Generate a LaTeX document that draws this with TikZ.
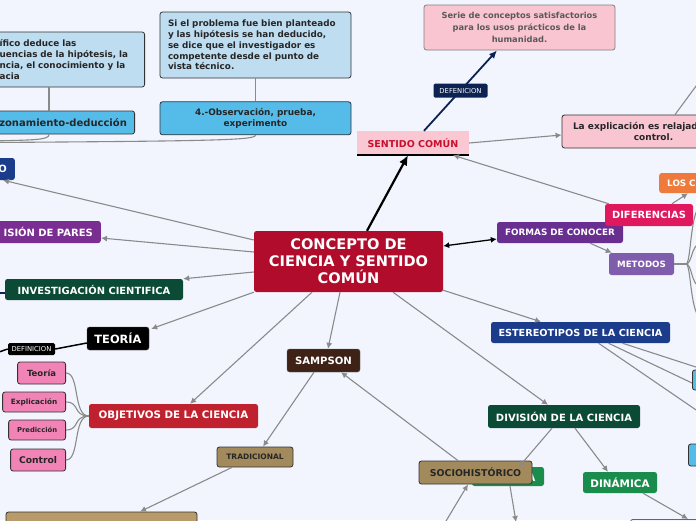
\documentclass[tikz,border=0pt]{standalone}
\usepackage{fontspec}
\setmainfont{DejaVu Sans}
\usetikzlibrary{arrows.meta,positioning}
\definecolor{fondo}{HTML}{F2F5FE}
\definecolor{gris}{HTML}{8A8A8A}
\definecolor{rojoconcepto}{HTML}{B10C2B}
\definecolor{rosasentido}{HTML}{FAC8D3}
\definecolor{textosentido}{HTML}{C8102E}
\definecolor{rosaserie}{HTML}{F9C5D1}
\definecolor{marino}{HTML}{0C2252}
\definecolor{celeste}{HTML}{BFDDF1}
\definecolor{azulvivo}{HTML}{55BCEA}
\definecolor{azulosc}{HTML}{1B3B8B}
\definecolor{moradopares}{HTML}{7B2E92}
\definecolor{moradoformas}{HTML}{682E90}
\definecolor{lilametodos}{HTML}{7F5DAC}
\definecolor{verdeosc}{HTML}{0B4A34}
\definecolor{verde}{HTML}{1A8D4C}
\definecolor{rojoobj}{HTML}{C0212F}
\definecolor{cafe}{HTML}{3E2215}
\definecolor{arena}{HTML}{A28A5C}
\definecolor{arenaclara}{HTML}{B89B6A}
\definecolor{fucsia}{HTML}{E0195F}
\definecolor{naranja}{HTML}{EE7B3C}
\definecolor{rosa}{HTML}{F283B6}

\begin{document}
\begin{tikzpicture}[x=1pt, y=-1pt,
  caja/.style={rectangle, rounded corners=2.5pt, inner sep=0pt, align=center, text=white},
  marco/.style={caja, draw=black!80, line width=0.8pt, text=black!85},
  letra/.style 2 args={font=\bfseries\fontsize{#1}{#2}\selectfont},
  etiqueta/.style={rectangle, rounded corners=1.5pt, fill=#1, text=white, inner sep=0pt, font=\fontsize{6.8}{8}\selectfont},
  flecha/.style={-{Latex[length=6pt,width=6pt]}, draw=gris, line width=1.1pt},
  linea/.style={draw=gris, line width=1.1pt}
]
  \useasboundingbox (0,0) rectangle (696,520);
  \fill[fondo] (0,0) rectangle (696,520);
  \clip (0,0) rectangle (696,520);

  % centro
  \node[caja, fill=rojoconcepto, letra={14.6}{17}, minimum width=189pt, minimum height=61pt] (concepto) at (348.5,261.5) {CONCEPTO DE\\CIENCIA Y SENTIDO\\COMÚN};

  % sentido comun
  \node[caja, rounded corners=0pt, fill=rosasentido, text=textosentido, letra={9.5}{11}, minimum width=112pt, minimum height=24pt] (sentido) at (413,143) {SENTIDO COMÚN};
  \draw[line width=2pt] (sentido.south west) -- (sentido.south east);
  \node[marco, draw=black!50, fill=rosaserie, text=black!65, letra={8.3}{11.7}, minimum width=191pt, minimum height=45pt] (serie) at (519.5,27.5) {Serie de conceptos satisfactorios\\para los usos prácticos de la\\humanidad.};
  \node[marco, fill=rosaserie, letra={9}{10.7}, minimum width=183pt, minimum height=33pt] (explicacion) at (653.5,131.5) {La explicación es relajada\hspace*{30pt}\\control.};

  % metodo cientifico
  \node[marco, fill=celeste, letra={8.8}{11}, text width=140pt, align=left, inner xsep=5pt, minimum height=55pt, anchor=east] (hipotesis) at (145,59.5) {ífico deduce las\\uencias de la hipótesis, la\\ncia, el conocimiento y la\\acia};
  \node[marco, fill=azulvivo, letra={10}{12}, minimum width=143pt, minimum height=23pt, anchor=east] (razonamiento) at (135,122.5) {zonamiento-deducción};
  \node[marco, fill=celeste, letra={8.8}{10.8}, text width=175pt, align=left, inner xsep=8pt, minimum height=66pt] (problema) at (255.5,45) {Si el problema fue bien planteado\\y las hipótesis se han deducido,\\se dice que el investigador es\\competente desde el punto de\\vista técnico.};
  \node[marco, fill=azulvivo, letra={8.9}{10.7}, minimum width=191pt, minimum height=33pt, below=23pt of problema] (observacion) {4.-Observación, prueba,\\experimento};

  % ramas izquierdas
  \node[caja, fill=azulosc, letra={10}{12}, text width=40pt, align=right, inner xsep=8pt, minimum height=22pt, anchor=east] (ramao) at (15,169) {O};
  \node[caja, fill=moradopares, letra={10}{12}, text width=100pt, align=right, inner xsep=8pt, minimum height=22pt, anchor=east] (pares) at (101,232) {ISIÓN DE PARES};
  \node[caja, fill=verdeosc, letra={9.9}{12}, minimum width=178pt, minimum height=21pt] (investigacion) at (94,289.5) {INVESTIGACIÓN CIENTIFICA};
  \node[caja, fill=black, draw=black!70, letra={11.4}{13}, minimum width=62pt, minimum height=23pt] (teoria) at (118,338.5) {TEORÍA};
  \node[etiqueta=black, minimum width=47pt, minimum height=12pt] (definicion) at (31.5,349) {DEFINICION};

  % objetivos
  \node[caja, fill=rojoobj, letra={10.3}{12}, minimum width=169pt, minimum height=24pt] (objetivos) at (173.5,416) {OBJETIVOS DE LA CIENCIA};
  \node[marco, fill=rosa, letra={8.5}{10}, minimum width=48pt, minimum height=22pt, anchor=east] (teoriaobj) at (66,373) {Teoría};
  \node[marco, fill=rosa, letra={7.3}{9}, minimum width=63pt, minimum height=20pt, anchor=east] (explicacionobj) at (66,402) {Explicación};
  \node[marco, fill=rosa, letra={6.8}{8}, minimum width=57pt, minimum height=20pt, anchor=east] (prediccion) at (66,430) {Predicción};
  \node[marco, fill=rosa, letra={9.2}{11}, minimum width=55pt, minimum height=22pt, anchor=east] (control) at (66,460) {Control};

  % sampson
  \node[caja, fill=cafe, draw=black!60, letra={10.1}{12}, minimum width=73pt, minimum height=23pt] (sampson) at (323.5,360.5) {SAMPSON};
  \node[marco, fill=arena, letra={7.5}{9}, minimum width=76pt, minimum height=20pt] (tradicional) at (255,457) {TRADICIONAL};
  \node[marco, fill=arenaclara, minimum width=191pt, minimum height=28pt] (tradicionaldef) at (101.5,526) {};

  % division de la ciencia
  \node[caja, fill=verdeosc, letra={10}{12}, minimum width=152pt, minimum height=23pt] (division) at (564,416.5) {DIVISIÓN DE LA CIENCIA};
  \node[caja, fill=verde, letra={10.4}{12}, minimum width=72pt, minimum height=19pt] (estatica) at (508,476.5) {ESTÁTICA};
  \node[marco, fill=arena, letra={9.4}{11}, minimum width=113pt, minimum height=23pt] (socio) at (475.5,472.5) {SOCIOHISTÓRICO};
  \node[caja, fill=verde, letra={10.4}{12}, minimum width=74pt, minimum height=21pt] (dinamica) at (620,482.5) {DINÁMICA};
  \node[marco, draw=black!60, fill=fondo, minimum width=120pt, minimum height=30pt, anchor=north west] (dinamicadef) at (630,519) {};

  % estereotipos
  \node[caja, fill=azulosc, letra={9.7}{12}, minimum width=179pt, minimum height=21pt] (estereotipos) at (580.5,332.5) {ESTEREOTIPOS DE LA CIENCIA};
  \node[marco, fill=azulvivo, minimum width=50pt, minimum height=20pt, anchor=west] (estereotipouno) at (692,380) {};
  \node[marco, fill=azulvivo, minimum width=50pt, minimum height=22pt, anchor=west] (estereotipodos) at (688,455) {};

  % formas de conocer
  \node[caja, fill=moradoformas, letra={8.8}{11}, minimum width=126pt, minimum height=21pt] (formas) at (560,232.5) {FORMAS DE CONOCER};
  \node[caja, fill=lilametodos, letra={8.7}{11}, minimum width=65pt, minimum height=22pt] (metodos) at (641.5,264) {METODOS};
  \node[caja, fill=fucsia, letra={9.9}{12}, minimum width=88pt, minimum height=22pt] (diferencias) at (649,215) {DIFERENCIAS};
  \node[caja, fill=naranja, letra={8.8}{11}, text width=70pt, align=left, inner xsep=8pt, minimum height=20pt, anchor=west] (conocimientos) at (659,183) {LOS C};

  % conectores
  \draw[-{Latex[length=10pt,width=9pt]}, line width=2.2pt] ([xshift=18.5pt]concepto.north) -- ([xshift=-5pt]sentido.south);
  \draw[-{Latex[length=8pt,width=7pt]}, draw=marino, line width=1.8pt] ([xshift=11pt]sentido.north) -- node[etiqueta=marino, minimum width=54pt, minimum height=14pt] {DEFENICION} ([xshift=-22.5pt]serie.south);
  \draw[flecha] (sentido.east) -- ([yshift=-3.5pt]explicacion.west);
  \draw[linea] ([xshift=21.5pt]explicacion.north) -- (702,78);
  \draw[flecha] ([xshift=4pt]diferencias.north west) -- ([xshift=40pt]sentido.south);
  \draw[flecha] ([xshift=23pt]diferencias.north) -- ([xshift=29pt]conocimientos.south west);
  \draw[{Latex[length=6pt,width=6pt]}-{Latex[length=6pt,width=6pt]}, line width=1.3pt] ([yshift=15.5pt]concepto.east) -- ([yshift=-6.5pt]formas.west);
  \draw[flecha] ([xshift=30pt]formas.south) -- ([xshift=3pt]metodos.north west);
  \draw[linea] (metodos.east) -- (686,264);
  \draw[linea] (686,264) .. controls (691,264) and (690,214) .. (700,206);
  \draw[linea] (686,264) .. controls (692,264) and (691,246) .. (700,243);
  \draw[linea] (686,264) .. controls (692,264) and (691,284) .. (700,287);
  \draw[linea] (686,264) .. controls (691,264) and (690,310) .. (700,318);

  \draw[linea] ([xshift=-96pt]hipotesis.south east) -- ([xshift=-86pt]razonamiento.north east);
  \draw[linea] ([xshift=-86pt]razonamiento.south east) .. controls (49,140) and (35,140) .. (-10,141);
  \draw[linea] (problema) -- (observacion);
  \draw[linea] (observacion.south) .. controls (255,140) and (220,141) .. (-10,142.5);

  \draw[flecha] ([yshift=21.5pt]concepto.west) -- ([xshift=-12pt]ramao.south east);
  \draw[flecha] ([yshift=9.5pt]concepto.west) -- ([yshift=-6pt]pares.east);
  \draw[flecha] ([yshift=-10.5pt]concepto.west) -- (investigacion.north east);
  \draw[marino, line width=1.2pt] ([yshift=-3.5pt]investigacion.west) -- (-10,293);
  \draw[flecha] (concepto.south west) -- ([xshift=2pt,yshift=-2pt]teoria.north east);
  \draw[line width=1.5pt] ([yshift=-4.5pt]teoria.west) -- (definicion.east);
  \draw[line width=1.5pt] (definicion.west) -- (-10,355);

  \draw[flecha] ([xshift=-36.5pt]concepto.south) -- ([xshift=16.5pt]objetivos.north);
  \foreach \hoja in {teoriaobj,explicacionobj,prediccion,control}
    \draw[linea] (objetivos.west) .. controls +(-16,0) and +(14,0) .. (\hoja.east);

  \draw[flecha] ([xshift=-8.5pt]concepto.south) -- ([xshift=4.5pt]sampson.north);
  \draw[flecha] ([xshift=-9.5pt]sampson.south) -- ([xshift=8pt]tradicional.north);
  \draw[flecha] ([xshift=-23pt]tradicional.south) -- ([xshift=38.5pt]tradicionaldef.north);
  \draw[flecha] ([xshift=-17.5pt]socio.north) -- ([xshift=17.5pt]sampson.south);
  \draw[flecha] (443,526) -- ([xshift=-7.5pt]socio.south);

  \draw[flecha] ([xshift=44.5pt]concepto.south) -- ([xshift=-16pt]division.north);
  \draw[flecha] ([xshift=-12pt]division.south) -- ([xshift=11pt]estatica.north);
  \draw[flecha] ([xshift=11pt]division.south) -- ([xshift=-12pt]dinamica.north);
  \draw[flecha] ([xshift=2pt]estatica.south) -- (516,522);
  \draw[flecha] ([xshift=23pt]dinamica.south) -- ([xshift=58pt]dinamicadef.north west);

  \draw[flecha] ([yshift=2pt]concepto.south east) -- ([xshift=-39.5pt]estereotipos.north);
  \draw[linea] ([xshift=42pt]estereotipos.south) -- (702,369);
  \draw[linea] ([xshift=28pt]estereotipos.south) -- ([yshift=-3pt]estereotipouno.west);
  \draw[linea] ([xshift=18pt]estereotipos.south) -- (702,414);
\end{tikzpicture}
\end{document}
